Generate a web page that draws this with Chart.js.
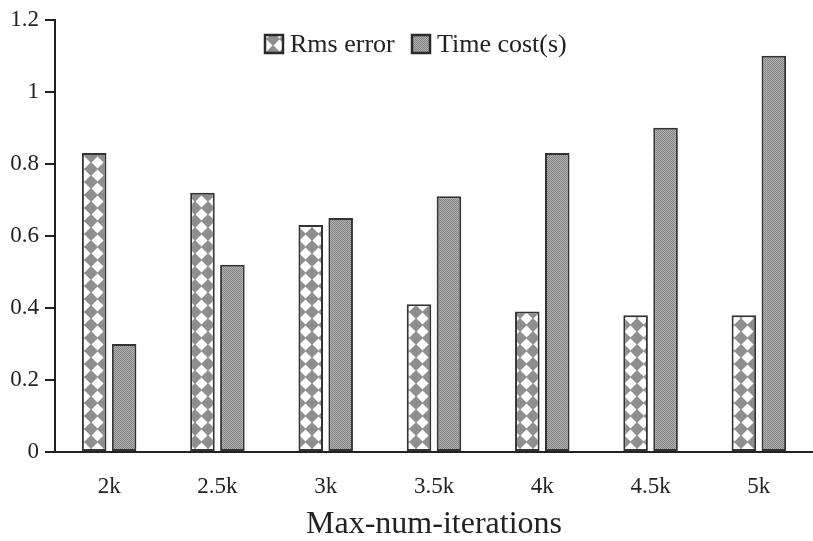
<!DOCTYPE html>
<html lang="en">
<head>
<meta charset="UTF-8">
<title>Rms error and time cost vs. max iterations</title>
<script src="https://cdn.jsdelivr.net/npm/chart.js"></script>
<style>
    html, body { margin: 0; padding: 0; background: #fff; }
    #wrap { width: 813px; height: 541px; }
</style>
</head>
<body>
<div id="wrap"><canvas id="mainChart" width="813" height="541"></canvas></div>
<script>
// --- data ---
const categories = ['2k', '2.5k', '3k', '3.5k', '4k', '4.5k', '5k'];
const rmsError = [0.83, 0.72, 0.63, 0.41, 0.39, 0.38, 0.38];
const timeCost = [0.30, 0.52, 0.65, 0.71, 0.83, 0.90, 1.10];
const yTicks = [0, 0.2, 0.4, 0.6, 0.8, 1, 1.2];
const seriesNames = ['Rms error', 'Time cost(s)'];

const SERIF = '"Liberation Serif", "Times New Roman", serif';
const INK = '#222';

// diamond checker fill for the rms bars
function diamondPattern() {
    const c = document.createElement('canvas');
    c.width = 13; c.height = 13;
    const g = c.getContext('2d');
    g.fillStyle = '#8e8e8e';
    g.fillRect(0, 0, 13, 13);
    g.fillStyle = '#fff';
    g.beginPath();
    g.moveTo(6.5, 0.5); g.lineTo(12.5, 6.5); g.lineTo(6.5, 12.5); g.lineTo(0.5, 6.5);
    g.closePath();
    g.fill();
    return g.createPattern(c, 'repeat');
}

// fine stipple for the time bars
function stipplePattern() {
    const c = document.createElement('canvas');
    c.width = 2; c.height = 2;
    const g = c.getContext('2d');
    g.fillStyle = '#b0b0b0';
    g.fillRect(0, 0, 2, 2);
    g.fillStyle = '#848484';
    g.fillRect(0, 0, 1, 1);
    g.fillRect(1, 1, 1, 1);
    return g.createPattern(c, 'repeat');
}

const fills = [diamondPattern(), stipplePattern()];

// legend drawn inside the plot, near the top
const innerLegend = {
    id: 'innerLegend',
    afterDraw(chart) {
        const ctx = chart.ctx;
        const items = [{ x: 265, name: seriesNames[0], fill: fills[0] },
                       { x: 412, name: seriesNames[1], fill: fills[1] }];
        ctx.save();
        ctx.font = '26px ' + SERIF;
        ctx.textBaseline = 'middle';
        items.forEach(it => {
            ctx.fillStyle = it.fill;
            ctx.fillRect(it.x, 35, 18, 18);
            ctx.lineWidth = 2.5;
            ctx.strokeStyle = '#2a2a2a';
            ctx.strokeRect(it.x, 35, 18, 18);
            ctx.fillStyle = INK;
            ctx.fillText(it.name, it.x + 25, 45);
        });
        ctx.restore();
    }
};

new Chart(document.getElementById('mainChart'), {
    type: 'bar',
    data: {
        labels: categories,
        datasets: [
            { label: seriesNames[0], data: rmsError, backgroundColor: fills[0] },
            { label: seriesNames[1], data: timeCost, backgroundColor: fills[1] }
        ]
    },
    options: {
        responsive: false,
        animation: false,
        devicePixelRatio: 1,
        layout: { padding: { top: 16, right: 0, bottom: 0, left: 0 } },
        datasets: {
            bar: {
                categoryPercentage: 0.553,
                barPercentage: 0.82,
                borderWidth: 2,
                borderColor: '#333',
                borderSkipped: false
            }
        },
        plugins: {
            legend: { display: false },
            tooltip: { enabled: false }
        },
        scales: {
            x: {
                grid: { display: false },
                border: { display: true, color: INK, width: 2 },
                ticks: { color: INK, font: { family: SERIF, size: 23 }, padding: 13 },
                title: {
                    display: true,
                    text: 'Max-num-iterations',
                    color: INK,
                    font: { family: SERIF, size: 32 },
                    padding: { top: 4, bottom: -3 }
                },
                afterFit(s) { s.height = 89; }
            },
            y: {
                min: 0,
                max: 1.2,
                afterBuildTicks(s) { s.ticks = yTicks.map(v => ({ value: v })); },
                grid: { drawOnChartArea: false, drawTicks: true, tickLength: 10, color: INK, lineWidth: 2 },
                border: { display: true, color: INK, width: 2 },
                ticks: {
                    color: INK,
                    font: { family: SERIF, size: 23 },
                    padding: 6,
                    callback: v => String(+v.toFixed(1))
                },
                afterFit(s) { s.width = 55; }
            }
        }
    },
    plugins: [innerLegend]
});
</script>
</body>
</html>
